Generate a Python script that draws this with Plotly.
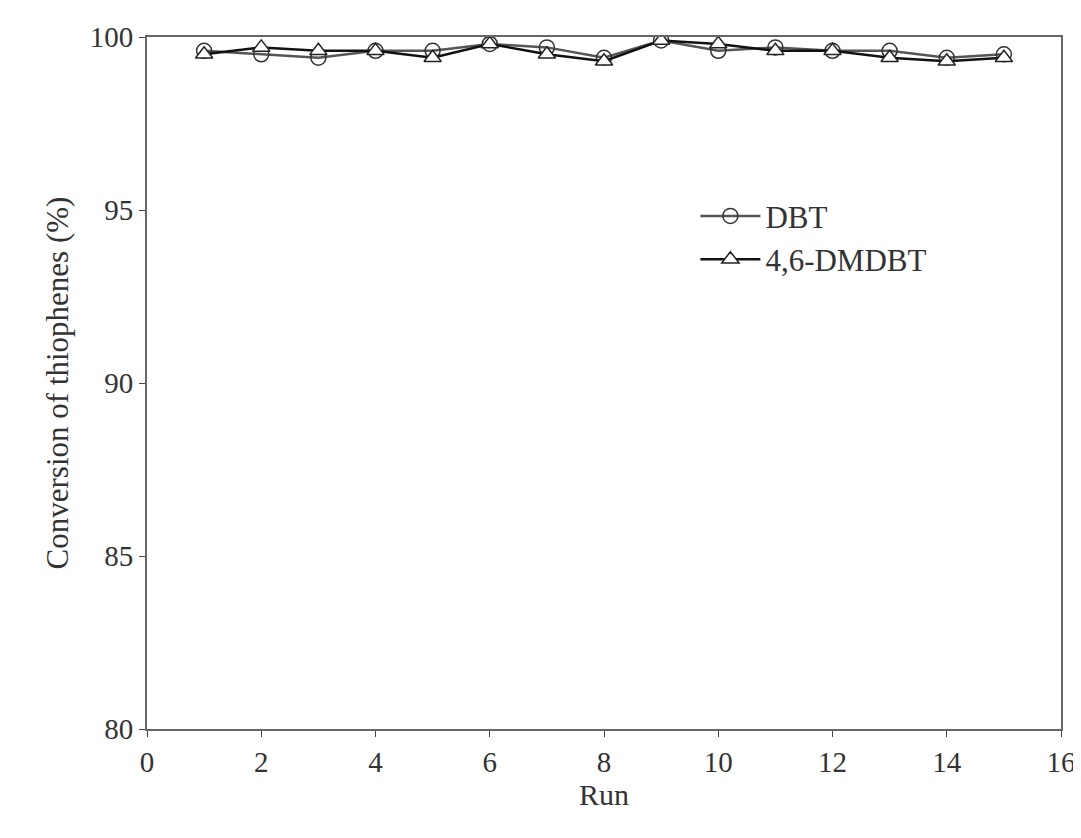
import plotly.graph_objects as go

runs = list(range(1, 16))
dbt = [99.6, 99.5, 99.4, 99.6, 99.6, 99.8, 99.7, 99.4, 99.9, 99.6, 99.7, 99.6, 99.6, 99.4, 99.5]
dmdbt = [99.5, 99.7, 99.6, 99.6, 99.4, 99.8, 99.5, 99.3, 99.9, 99.8, 99.6, 99.6, 99.4, 99.3, 99.4]

fig = go.Figure()
fig.add_trace(go.Scatter(x=runs, y=dbt, name="DBT", mode="lines+markers",
    line=dict(color="#555555", width=2.5),
    marker=dict(symbol="circle-open", size=15, color="#333", line=dict(width=1.5))))
fig.add_trace(go.Scatter(x=runs, y=dmdbt, name="4,6-DMDBT", mode="lines+markers",
    line=dict(color="#111111", width=2.5),
    marker=dict(symbol="triangle-up", size=15, color="white", line=dict(width=1.5, color="#222"))))

ax = dict(showline=True, linecolor="#666", linewidth=2, mirror=True, ticks="outside",
          ticklen=6, tickcolor="#444", showgrid=False, zeroline=False,
          tickfont=dict(size=29, family="Liberation Serif", color="#333"))
fig.update_xaxes(range=[0, 16], dtick=2, title=dict(text="Run", standoff=0,
    font=dict(size=30, family="Liberation Serif", color="#333")), **ax)
fig.update_yaxes(range=[80, 100], dtick=5, title=dict(text="Conversion of thiophenes (%)", standoff=12,
    font=dict(size=31, family="Liberation Serif", color="#333")), **ax)
fig.update_layout(width=1081, height=838, plot_bgcolor="white", paper_bgcolor="white",
    margin=dict(l=139, r=28, t=29, b=117),
    legend=dict(x=0.6, y=0.78, xanchor="left", yanchor="top", itemwidth=60,
        font=dict(size=31, family="Liberation Serif", color="#333"), bgcolor="rgba(0,0,0,0)"))
fig.write_html("out.html")
